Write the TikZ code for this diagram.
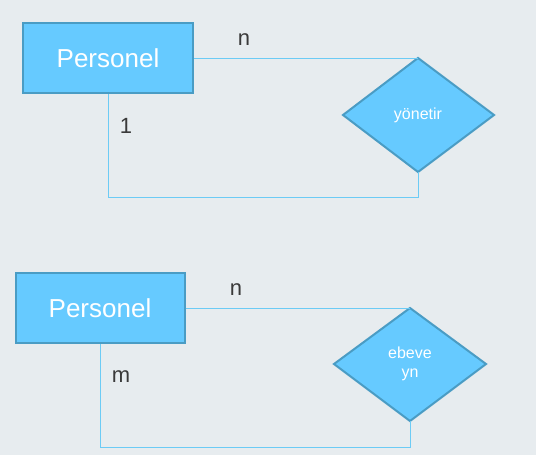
\documentclass[tikz,border=0pt]{standalone}
\usepackage{fontspec}
\setmainfont{Liberation Sans}
\usetikzlibrary{shapes.geometric}
\definecolor{bg}{HTML}{E7ECEF}
\definecolor{boxfill}{HTML}{66CAFF}
\definecolor{boxdraw}{HTML}{4A9CC4}
\definecolor{linec}{HTML}{6CCBF5}
\definecolor{lab}{HTML}{3A3A3A}
\begin{document}
\begin{tikzpicture}[x=1pt,y=-1pt,
  entity/.style={draw=boxdraw,line width=2pt,fill=boxfill,text=white,font=\fontsize{26}{28}\selectfont,inner sep=0pt},
  rel/.style={draw=boxdraw,line width=2pt,fill=boxfill,text=white,inner sep=0pt},
  conn/.style={draw=linec,line width=1pt},
  card/.style={text=lab,font=\fontsize{22}{24}\selectfont,inner sep=0pt}]
\fill[bg] (0,0) rectangle (536,455);
\useasboundingbox (0,0) rectangle (536,455);
% top
\node[entity,minimum width=170pt,minimum height=70pt] (p1) at (108,58) {Personel};
\draw[rel] (418,58) -- (494,115) -- (418,172) -- (343,115) -- cycle;
\coordinate (d1t) at (418,58);
\coordinate (d1b) at (418,172);
\node[text=white,font=\fontsize{16}{18}\selectfont] (r1) at (418,115) {yönetir};
\coordinate (c1) at (108,197);
\coordinate (c2) at (418,197);
\draw[conn] (p1.east) -- (d1t);
\draw[conn] (p1.south) -- (c1) -- (c2) -- (d1b);
\node[card] (n1) at (244,40) {n};
\node[card] (o1) at (126,126) {1};
% bottom
\node[entity,minimum width=169pt,minimum height=70pt] (p2) at (100,308) {Personel};
\draw[rel] (410,308) -- (486,364) -- (410,421) -- (334,364) -- cycle;
\coordinate (d2t) at (410,308);
\coordinate (d2b) at (410,421);
\node[text=white,font=\fontsize{16}{19}\selectfont,align=center] (r2) at (410,364) {ebeve\\yn};
\coordinate (c3) at (100,447);
\coordinate (c4) at (410,447);
\draw[conn] (p2.east) -- (d2t);
\draw[conn] (p2.south) -- (c3) -- (c4) -- (d2b);
\node[card] (n2) at (236,290) {n};
\node[card] (m2) at (121,377) {m};
\end{tikzpicture}
\end{document}
